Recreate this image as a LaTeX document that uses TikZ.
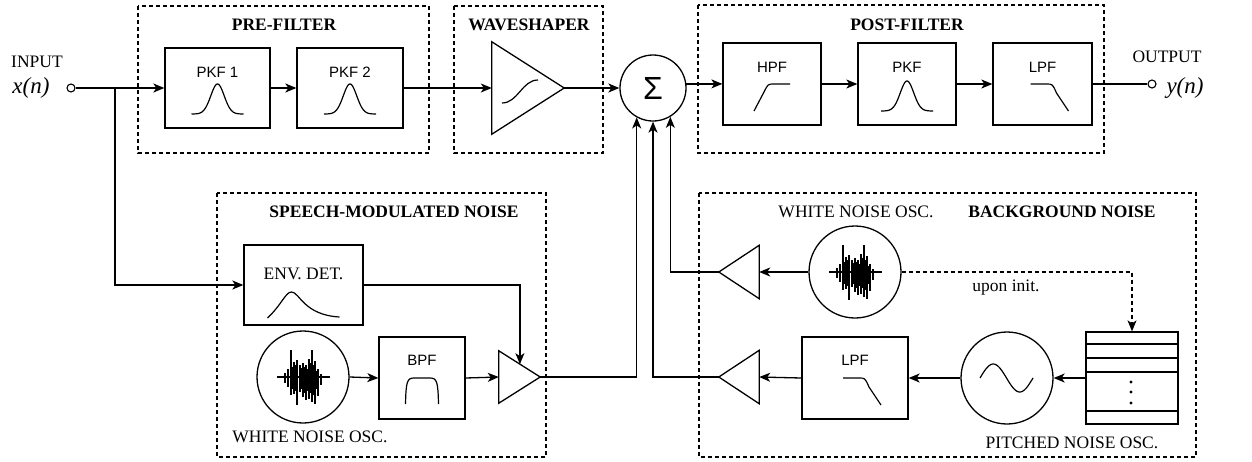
\documentclass[tikz,border=0pt]{standalone}
\usepackage{fontspec}
\setmainfont{Liberation Serif}
\newfontfamily\sansf{Liberation Sans}
\usetikzlibrary{arrows.meta,calc}
\tikzset{
  box/.style={draw, rectangle, inner sep=0pt, line width=1.3pt},
  osc/.style={draw, circle, inner sep=0pt, minimum size=92pt, line width=1.3pt},
  ampbox/.style={rectangle, inner sep=0pt},
  grp/.style={draw, dash pattern=on 4pt off 3pt, line width=1.1pt},
  dashconn/.style={dash pattern=on 4pt off 3pt, line width=1.1pt},
  arr/.style={-{Stealth[length=11pt,width=9pt,inset=3pt]}},
  conn/.style={line width=1.3pt},
  lbl/.style={font=\fontsize{17.5}{20}\selectfont, inner sep=0pt},
  slbl/.style={font=\sansf\fontsize{15}{18}\selectfont, inner sep=0pt},
  ttl/.style={font=\bfseries\fontsize{17.5}{20}\selectfont, inner sep=0pt},
  io/.style={font=\itshape\fontsize{23}{26}\selectfont, inner sep=0pt},
  port/.style={draw, circle, inner sep=0pt, minimum size=8pt, line width=1.1pt, fill=white},
  curve/.style={line width=1.2pt},
  bell/.pic={\draw[curve] plot[domain=-26:26, samples=60, smooth] (\x,{-30*exp(-(\x/9.5)^2)});},
  hpcurve/.pic={\draw[curve] (-18,27) -- (-8,8) .. controls (-4,0) .. (2,0) -- (18,0);},
  lpcurve/.pic={\draw[curve] (-12,0) -- (4,0) .. controls (10,0) .. (14,9) -- (26,27);},
  bpcurve/.pic={\draw[curve] (-16.5,26) .. controls (-16,4) and (-15,0) .. (-8,0) -- (8,0) .. controls (15,0) and (16,4) .. (16.5,26);},
  envcurve/.pic={\draw[curve] (-36,33) .. controls (-22,20) and (-18,7) .. (-12,7) .. controls (-4,7) and (0,30) .. (36,32);},
  sigcurve/.pic={\draw[curve] (-26,15) .. controls (-10,15) and (-6,-8) .. (10,-8);},
  sinecurve/.pic={\draw[curve] plot[domain=-27:26, samples=60, smooth] (\x,{-14*sin((\x+27)/53*360)});},
  noise/.pic={
    \draw[line width=1.1pt] (-26,0) -- (27,0);
    \foreach \dx/\t/\b in {-18/-4/6,-15/-8/10,-12/-27/18,-9/-15/17,-6/-17/28,-3/-12/15,0/-14/20,3/-12/23,6/-18/22,9/-27/25,12/-16/27,15/-8/19,18/-3/8}
      {\draw[line width=2.6pt] (\dx,\t) -- (\dx,\b);}
    \foreach \dx/\t/\b in {-10.5/-10/12,-7.5/-12/14,-1.5/-9/12,1.5/-10/16,4.5/-8/14,7.5/-14/16,10.5/-12/18,13.5/-6/12}
      {\draw[line width=1.6pt] (\dx,\t) -- (\dx,\b);}
  }
}
\begin{document}
\begin{tikzpicture}[x=1pt,y=-1pt]
\useasboundingbox (0,0) rectangle (1252,461);

% group frames
\draw[grp] (138,6) rectangle (429,153);
\draw[grp] (454,6) rectangle (603,153);
\draw[grp] (698,5) rectangle (1104,153);
\draw[grp] (217,193) rectangle (546,457);
\draw[grp] (699,193) rectangle (1196,457);

\node[ttl] (tpre) at (284,25) {PRE-FILTER};
\node[ttl] (tws) at (529,25) {WAVESHAPER};
\node[ttl] (tpost) at (907,25) {POST-FILTER};
\node[ttl] (tsp) at (394,212) {SPEECH-MODULATED NOISE};
\node[ttl] (tbg) at (1062,212) {BACKGROUND NOISE};

% input / output
\node[lbl] (inlbl) at (37,62) {INPUT};
\node[io] (xn) at (31,88) {x(n)};
\node[port] (in) at (71,88) {};
\node[lbl] (outlbl) at (1167,57) {OUTPUT};
\node[io] (yn) at (1185,88) {y(n)};
\node[port] (out) at (1152,84) {};

% pre-filter
\node[box, minimum width=105pt, minimum height=80pt] (pkf1) at (217.5,88) {};
\node[slbl] (pkf1l) at (217.5,72) {PKF 1};
\pic at ($(pkf1.center)+(0,26)$) {bell};
\node[box, minimum width=106pt, minimum height=80pt] (pkf2) at (350,88) {};
\node[slbl] (pkf2l) at (350,72) {PKF 2};
\pic at ($(pkf2.center)+(0,26)$) {bell};

% waveshaper
\node[ampbox, minimum width=72pt, minimum height=92pt] (ws) at (528,88) {};
\draw[conn] (ws.north west) -- (ws.south west) -- (ws.east) -- cycle;
\pic at (ws.center) {sigcurve};

% sum
\node[draw, circle, minimum size=66pt, inner sep=0pt, line width=1.3pt, font=\sansf\fontsize{32}{32}\selectfont] (sum) at (653,88) {Σ};

% post-filter
\node[box, minimum width=98pt, minimum height=82pt] (hpf) at (772,84) {};
\node[slbl] (hpfl) at (772,67) {HPF};
\pic at (hpf.center) {hpcurve};
\node[box, minimum width=98pt, minimum height=82pt] (pkf) at (907,84) {};
\node[slbl] (pkfl) at (907,67) {PKF};
\pic at ($(pkf.center)+(0,27)$) {bell};
\node[box, minimum width=99pt, minimum height=82pt] (lpf) at (1042.5,84) {};
\node[slbl] (lpfl) at (1042.5,67) {LPF};
\pic at (lpf.center) {lpcurve};

% speech-modulated noise
\node[box, minimum width=119pt, minimum height=80pt] (env) at (303.5,285) {};
\node[lbl] (envl) at (303.5,274) {ENV. DET.};
\pic at (env.center) {envcurve};
\node[osc] (wn1) at (303,377) {};
\pic at (wn1.center) {noise};
\node[lbl] (wn1l) at (310,437) {WHITE NOISE OSC.};
\node[box, minimum width=86pt, minimum height=82pt] (bpf) at (422,378) {};
\node[slbl] (bpfl) at (422,360) {BPF};
\pic at (bpf.center) {bpcurve};
\node[ampbox, minimum width=41pt, minimum height=52pt] (amp1) at (519.5,377) {};
\draw[conn] (amp1.north west) -- (amp1.south west) -- (amp1.east) -- cycle;
\coordinate (ampin) at ($(amp1.north west)!0.51!(amp1.east)$);

% background noise
\node[lbl] (wn2l) at (856,212) {WHITE NOISE OSC.};
\node[osc] (wn2) at (855,272) {};
\pic at (wn2.center) {noise};
\node[ampbox, minimum width=40pt, minimum height=53pt] (amp2) at (739,272) {};
\draw[conn] (amp2.north east) -- (amp2.south east) -- (amp2.west) -- cycle;
\node[lbl] (upon) at (1006,288) {upon init.};
\node[box, minimum width=92pt, minimum height=92pt] (tbl) at (1132,378) {};
\foreach \yy in {344,358,372,411} \draw[conn] (tbl.west |- 0,\yy) -- (tbl.east |- 0,\yy);
\foreach \yy in {382,392,403} \fill (1131,\yy) circle[radius=1.6pt];
\node[osc] (sine) at (1007,378) {};
\pic at (sine.center) {sinecurve};
\node[lbl] (pnl) at (1072,443) {PITCHED NOISE OSC.};
\node[box, minimum width=106pt, minimum height=82pt] (lpf2) at (855,378) {};
\node[slbl] (lpf2l) at (855,360) {LPF};
\pic at (lpf2.center) {lpcurve};
\node[ampbox, minimum width=40pt, minimum height=53pt] (amp3) at (739,377) {};
\draw[conn] (amp3.north east) -- (amp3.south east) -- (amp3.west) -- cycle;

% connectors
\coordinate (br) at (115,88);
\draw[conn] (in.east) -- (br);
\draw[conn,arr] (br) -- (pkf1.west);
\draw[conn,arr] (br) |- (env.west);
\draw[conn,arr] (pkf1.east) -- (pkf2.west);
\draw[conn,arr] (pkf2.east) -- (ws.west);
\draw[conn,arr] (ws.east) -- (sum.west);
\draw[conn,arr] (sum.7) -- (sum.7 -| hpf.west);
\draw[conn,arr] (hpf.east) -- (pkf.west);
\draw[conn,arr] (pkf.east) -- (lpf.west);
\draw[conn] (lpf.east) -- (out.west);

\draw[conn,arr] (env.east) -| (ampin);
\draw[conn,arr] (wn1.east) -- (bpf.west);
\draw[conn,arr] (bpf.east) -- (amp1.west);
\draw[conn,arr] (amp1.east) -| (sum.241);

\draw[conn,arr] (wn2.west) -- (amp2.east);
\draw[conn,arr] (amp2.west) -| (sum.301);
\draw[dashconn,arr] (wn2.east) -| (tbl.north);
\draw[conn,arr] (tbl.west) -- (sine.east);
\draw[conn,arr] (sine.west) -- (lpf2.east);
\draw[conn,arr] (lpf2.west) -- (amp3.east);
\draw[conn,arr] (amp3.west) -| (sum.270);
\end{tikzpicture}
\end{document}
